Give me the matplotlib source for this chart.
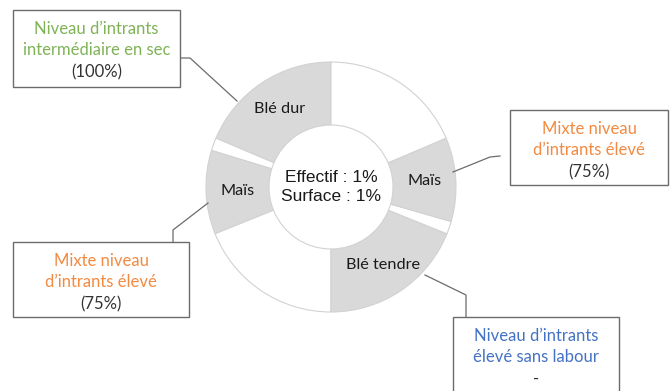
import matplotlib.pyplot as plt
from matplotlib.patches import Rectangle

# secteurs de l'anneau (degrés), en partant du haut dans le sens anti-horaire
segments = ["Blé dur", "", "Maïs", "", "Blé tendre", "", "Maïs", ""]
angles = [67, 6, 39, 68, 68, 6, 39, 67]
colors = ["#d9d9d9", "white", "#d9d9d9", "white", "#d9d9d9", "white", "#d9d9d9", "white"]

centre_text = "Effectif : 1%\nSurface : 1%"

# étiquettes des encadrés: (titre, pourcentage, couleur)
box_titles = ["Niveau d’intrants\nintermédiaire en sec",
              "Mixte niveau\nd’intrants élevé",
              "Mixte niveau\nd’intrants élevé",
              "Niveau d’intrants\nélevé sans labour"]
box_values = ["(100%)", "(75%)", "(75%)", "-"]
box_colors = ["#7fb356", "#f28a42", "#f28a42", "#4472c4"]

W, H = 670, 391
fig = plt.figure(figsize=(6.7, 3.91), dpi=100)
ax = fig.add_axes([0, 0, 1, 1])


def fy(y):
    # coordonnées pixel (origine en haut) -> axes
    return H - y


cx, cy, r = 331, fy(187), 125
wedges, texts = ax.pie(angles, labels=segments, colors=colors, startangle=90,
                       counterclock=True, center=(cx, cy), radius=r,
                       labeldistance=0.75, frame=True,
                       wedgeprops=dict(width=63, edgecolor="#d2d2d2", linewidth=0.8),
                       textprops=dict(family="Lato", fontsize=11.7, color="#1a1a1a"))
for t in texts:
    t.set_ha("center")
    t.set_va("center")
ax.set_xlim(0, W)
ax.set_ylim(0, H)
ax.set_aspect("equal")
ax.axis("off")

ax.text(cx, cy, centre_text, ha="center", va="center", family="Liberation Sans",
        fontsize=12.5, color="#1a1a1a", linespacing=1.3)

# encadrés: x0, y0, x1, y1 (pixels)
boxes = [(13, 10, 180, 87), (510, 110, 668, 185), (13, 242, 189, 317), (453, 317, 619, 400)]
for (x0, y0, x1, y1), title, val, col in zip(boxes, box_titles, box_values, box_colors):
    ax.add_patch(Rectangle((x0, fy(y1)), x1 - x0, y1 - y0, facecolor="white",
                           edgecolor="#6b6b6b", linewidth=1.0, zorder=3))
    xm = (x0 + x1) / 2
    ax.text(xm, fy(y0 + 29.5), title, ha="center", va="center", family="Lato",
            fontsize=12, color=col, linespacing=1.38, zorder=4)
    ax.text(xm, fy(y0 + 62), val, ha="center", va="center", family="Lato",
            fontsize=12, color="#333333", zorder=4)

# traits de rappel
leaders = [[(180, 58), (190, 58), (237, 101)],
           [(453, 172), (490, 157), (500, 156)],
           [(208, 203), (173, 230), (173, 242)],
           [(425, 275), (466, 295), (466, 317)]]
for pts in leaders:
    xs = [p[0] for p in pts]
    ys = [fy(p[1]) for p in pts]
    ax.plot(xs, ys, color="#6b6b6b", linewidth=0.9, zorder=2)

fig.savefig("out.png", dpi=100)
